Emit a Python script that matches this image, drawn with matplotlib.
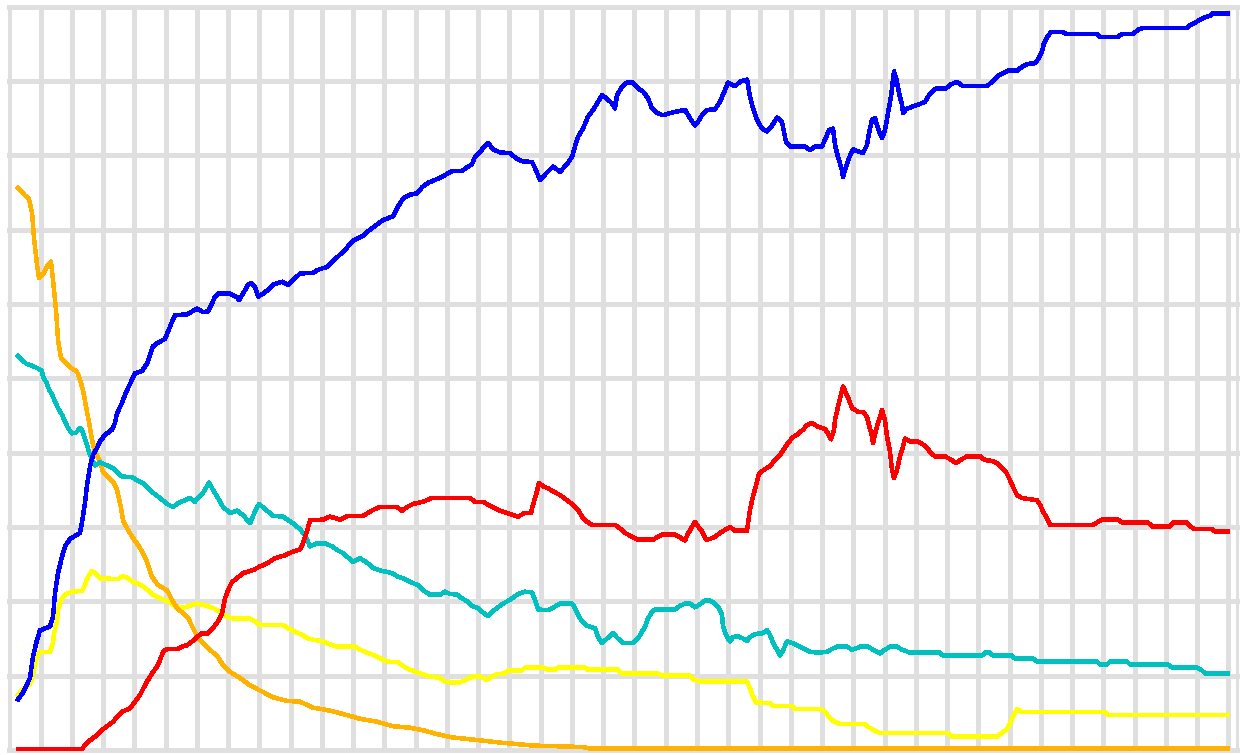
import numpy as np
import matplotlib
matplotlib.use("Agg")
import matplotlib.pyplot as plt

# x = day index (0 .. 121), y = share in percent (0 .. 100)
blue_day = [0.0, 0.5, 1.2, 1.5, 1.9, 2.2, 3.2, 3.5, 3.7, 4.0, 4.4, 4.7, 5.2, 6.2, 6.4, 6.7, 6.9, 7.2,
            7.5, 7.9, 8.2, 8.7, 9.4, 9.7, 9.9, 10.4, 10.7, 11.0, 11.4, 11.7, 12.4, 12.9, 13.2, 13.5,
            14.0, 14.7, 15.0, 15.4, 15.7, 16.9, 17.4, 17.9, 18.5, 19.0, 19.4, 19.7, 20.0, 21.2, 21.9,
            22.1, 22.5, 23.0, 23.3, 23.7, 24.0, 24.5, 25.0, 25.5, 26.4, 27.0, 27.5, 28.2, 29.5, 30.0,
            30.9, 31.4, 32.0, 32.7, 33.5, 34.5, 35.2, 35.7, 36.5, 37.5, 38.0, 38.5, 39.2, 39.9, 40.4,
            41.0, 41.7, 42.4, 43.0, 43.5, 44.4, 44.9, 45.4, 45.7, 46.2, 46.5, 47.0, 47.5, 48.2, 49.2,
            49.9, 50.5, 51.4, 51.7, 52.2, 52.9, 53.5, 54.2, 54.9, 55.4, 55.7, 56.0, 56.5, 57.0, 57.5,
            57.9, 58.4, 58.9, 59.4, 59.7, 59.9, 60.4, 60.9, 61.5, 62.0, 62.5, 63.0, 63.4, 63.9, 64.5,
            65.2, 65.9, 66.7, 67.2, 67.7, 68.0, 68.4, 68.9, 69.7, 70.2, 70.7, 71.0, 71.7, 72.2, 72.9,
            73.2, 73.5, 73.9, 74.4, 74.9, 75.4, 75.9, 76.4, 76.8, 77.2, 78.7, 79.2, 79.7, 80.4, 80.7,
            81.1, 81.5, 81.7, 82.0, 82.4, 82.5, 82.9, 83.3, 83.5, 84.5, 84.9, 85.1, 85.4, 85.7, 86.0,
            86.4, 86.7, 87.0, 87.3, 87.5, 87.6, 87.9, 88.1, 88.4, 88.5, 88.8, 89.5, 90.0, 90.7, 91.2,
            91.8, 92.8, 93.2, 93.9, 94.5, 96.9, 97.4, 97.9, 98.4, 99.0, 99.9, 100.4, 101.0, 101.7,
            102.0, 102.4, 102.6, 102.9, 103.3, 104.4, 104.9, 107.9, 108.2, 109.9, 110.4, 111.5, 112.0,
            112.4, 116.9, 117.2, 117.9, 118.4, 119.2, 119.5, 121.0]
blue_val = [6.8, 7.7, 9.7, 12.6, 14.8, 16.1, 16.6, 17.9, 21.1, 23.8, 26.0, 27.4, 28.4, 29.2, 30.7, 33.2,
            35.7, 38.1, 39.7, 40.6, 41.5, 42.4, 43.1, 44.0, 45.3, 46.7, 47.8, 48.7, 49.8, 50.7, 51.0,
            52.0, 53.1, 54.3, 54.8, 55.3, 56.3, 57.6, 58.5, 58.6, 59.0, 59.4, 58.9, 59.0, 60.1, 61.0,
            61.4, 61.4, 60.9, 60.5, 61.4, 62.6, 62.8, 62.3, 61.0, 61.4, 61.9, 62.6, 63.0, 62.6, 63.2,
            64.1, 64.2, 64.6, 65.0, 65.6, 66.4, 67.3, 68.5, 69.2, 70.0, 70.5, 71.3, 71.8, 73.1, 74.2,
            74.7, 74.9, 75.7, 76.3, 76.7, 77.1, 77.6, 77.9, 77.9, 78.4, 78.8, 79.8, 80.4, 81.0, 81.7,
            80.8, 80.4, 80.3, 79.5, 79.2, 79.1, 78.3, 76.7, 77.7, 78.5, 77.8, 78.8, 79.8, 81.2, 82.5,
            83.6, 85.2, 86.1, 87.0, 88.1, 87.6, 87.0, 86.3, 88.1, 89.2, 89.8, 89.8, 89.0, 88.6, 87.7,
            86.3, 85.7, 85.4, 85.7, 85.9, 86.1, 85.0, 84.0, 84.5, 85.4, 86.1, 86.2, 87.2, 88.8, 89.8,
            89.3, 89.9, 90.2, 87.9, 86.3, 84.8, 83.6, 83.2, 84.0, 85.1, 84.5, 81.8, 81.2, 81.2, 80.7,
            81.2, 81.2, 82.1, 83.4, 83.6, 81.4, 79.8, 78.0, 77.1, 78.9, 80.3, 80.8, 80.3, 81.4, 83.0,
            84.8, 85.0, 83.6, 82.3, 83.4, 85.7, 87.9, 90.1, 91.3, 89.9, 88.4, 86.8, 85.7, 86.2, 86.6,
            86.8, 87.2, 88.3, 89.0, 89.0, 89.5, 89.9, 89.3, 89.3, 89.9, 90.6, 91.0, 91.4, 91.4, 91.9,
            92.3, 92.4, 92.9, 94.0, 95.1, 95.9, 96.6, 96.6, 96.3, 96.3, 95.9, 95.9, 96.3, 96.3, 96.9,
            97.1, 97.1, 97.5, 98.0, 98.4, 98.8, 99.1, 99.1]

red_day = [0.0, 6.4, 6.7, 7.2, 7.9, 8.4, 8.9, 9.5, 10.0, 10.5, 11.2, 11.7, 12.2, 12.5, 12.9, 13.4, 13.9,
           14.2, 14.5, 14.9, 16.0, 16.4, 16.9, 17.4, 17.9, 18.4, 19.0, 19.5, 20.0, 20.4, 20.7, 21.0,
           21.4, 21.9, 22.5, 23.5, 24.2, 24.9, 25.7, 26.7, 27.5, 28.2, 28.5, 28.9, 29.2, 30.5, 31.2,
           32.2, 33.0, 34.5, 35.0, 35.5, 36.2, 37.9, 38.4, 38.9, 39.5, 40.5, 41.4, 45.2, 45.7, 46.5,
           47.0, 47.7, 48.2, 48.9, 49.5, 50.0, 50.7, 51.3, 51.5, 51.8, 52.1, 52.5, 53.0, 53.5, 54.2,
           54.9, 55.5, 56.0, 56.4, 56.9, 57.4, 59.7, 60.2, 60.7, 61.4, 62.0, 63.5, 64.0, 64.5, 65.7,
           66.2, 66.7, 67.0, 67.4, 67.7, 68.0, 68.4, 68.8, 69.2, 69.7, 70.2, 70.7, 71.2, 71.7, 72.9,
           73.0, 73.2, 73.5, 73.9, 74.1, 74.6, 75.2, 75.7, 76.2, 76.6, 77.0, 77.5, 78.0, 78.5, 78.9,
           79.4, 80.0, 80.7, 81.0, 81.3, 81.6, 81.7, 82.0, 82.3, 82.5, 82.8, 83.1, 83.4, 84.0, 84.5,
           84.9, 85.1, 85.4, 85.5, 85.8, 86.1, 86.4, 86.7, 86.9, 87.2, 87.4, 87.6, 87.9, 88.2, 88.5,
           88.7, 89.2, 90.0, 90.4, 90.9, 91.2, 91.7, 92.7, 93.4, 93.8, 94.2, 94.9, 96.2, 96.7, 97.4,
           97.9, 98.4, 98.8, 99.1, 99.5, 99.9, 100.4, 101.9, 102.2, 102.5, 102.9, 103.2, 107.5, 107.9,
           108.4, 110.0, 110.4, 113.0, 113.4, 115.2, 115.5, 116.9, 117.2, 117.7, 119.4, 119.7, 121.0]
red_val = [0.1, 0.1, 0.7, 1.3, 2.0, 2.7, 3.2, 3.8, 4.6, 5.2, 5.6, 6.5, 7.4, 8.2, 9.2, 10.3, 11.2, 12.1,
           13.2, 13.6, 13.6, 13.9, 14.1, 14.6, 15.2, 15.7, 15.7, 16.4, 17.3, 18.4, 20.4, 21.5, 22.6,
           23.1, 23.8, 24.2, 24.7, 25.1, 25.8, 26.2, 26.7, 27.0, 27.8, 29.4, 30.9, 31.0, 31.4, 31.0,
           31.5, 31.5, 31.9, 32.3, 32.7, 32.7, 32.2, 32.7, 33.1, 33.4, 33.9, 33.9, 33.4, 33.4, 33.0,
           32.5, 32.2, 31.9, 31.6, 31.4, 31.9, 31.9, 33.0, 34.3, 35.9, 35.5, 35.2, 34.8, 34.3, 33.6,
           33.0, 32.3, 31.4, 30.7, 30.3, 30.3, 29.8, 29.2, 28.7, 28.3, 28.3, 28.7, 29.0, 29.0, 28.6,
           28.2, 29.1, 30.0, 30.7, 30.1, 29.4, 28.3, 28.4, 28.7, 29.2, 29.6, 30.0, 29.5, 29.5, 30.5,
           32.3, 34.1, 36.1, 37.2, 37.7, 38.2, 39.0, 39.7, 40.5, 41.3, 42.1, 42.5, 43.1, 43.7, 44.0,
           43.5, 43.2, 42.6, 41.8, 43.1, 44.4, 46.2, 47.8, 48.9, 48.0, 47.1, 46.0, 45.5, 45.5, 44.8,
           43.7, 42.2, 41.3, 43.1, 44.4, 45.7, 44.4, 42.2, 40.1, 37.7, 36.6, 37.7, 39.5, 40.8, 41.9,
           41.5, 41.5, 41.2, 40.7, 40.1, 39.5, 39.5, 39.0, 38.6, 39.0, 39.5, 39.5, 39.0, 38.9, 38.6,
           38.0, 37.4, 36.6, 35.4, 34.3, 33.9, 33.6, 33.0, 32.1, 31.2, 30.3, 30.3, 30.6, 31.0, 31.0,
           30.6, 30.6, 30.1, 30.1, 30.6, 30.6, 30.1, 29.7, 29.7, 29.4, 29.4]

cyan_day = [0.0, 0.4, 0.8, 1.4, 1.9, 2.4, 2.5, 2.9, 3.1, 3.4, 3.7, 4.0, 4.4, 4.7, 5.0, 5.4, 5.8, 6.2,
            6.4, 6.7, 6.9, 7.1, 7.4, 7.7, 8.2, 8.9, 9.5, 9.9, 10.4, 11.4, 11.9, 12.5, 13.0, 13.5, 14.2,
            14.9, 15.5, 16.0, 16.5, 17.2, 17.7, 18.1, 18.5, 18.9, 19.1, 19.5, 20.0, 20.5, 21.2, 21.9,
            22.5, 23.2, 23.7, 24.1, 24.9, 25.5, 26.5, 27.5, 28.2, 28.7, 29.2, 29.9, 30.7, 31.4, 31.9,
            32.5, 33.0, 33.5, 34.2, 34.9, 35.5, 36.4, 37.4, 38.0, 38.7, 39.4, 40.0, 40.5, 41.2, 42.2,
            42.7, 43.2, 43.9, 44.4, 44.9, 45.4, 46.0, 46.5, 47.0, 47.4, 47.9, 48.5, 49.2, 49.7, 50.2,
            50.7, 51.4, 51.7, 52.0, 53.0, 53.7, 54.2, 55.4, 55.7, 56.0, 56.4, 56.9, 57.7, 58.0, 58.4,
            58.9, 59.5, 60.0, 60.5, 61.5, 62.0, 62.4, 62.7, 63.0, 63.4, 63.7, 65.7, 66.2, 66.7, 67.2,
            67.7, 68.2, 68.7, 69.2, 69.7, 70.1, 70.4, 70.5, 70.9, 71.2, 71.5, 72.0, 72.5, 72.9, 73.2,
            73.7, 74.4, 74.9, 75.2, 75.5, 75.9, 76.2, 76.5, 76.9, 77.4, 77.9, 78.5, 79.2, 80.1, 80.9,
            81.4, 81.9, 82.9, 83.4, 83.9, 84.2, 85.0, 85.5, 86.2, 86.7, 87.2, 87.9, 88.4, 89.2, 92.2,
            92.5, 96.4, 96.7, 97.2, 97.5, 99.4, 99.7, 101.5, 101.9, 107.9, 108.2, 108.9, 109.2, 110.9,
            111.2, 115.0, 115.4, 117.9, 118.4, 118.7, 121.0]
cyan_val = [53.0, 52.5, 52.0, 51.7, 51.4, 51.0, 50.2, 49.3, 48.5, 47.8, 46.9, 46.0, 45.1, 44.2, 43.3,
            42.6, 42.7, 43.3, 43.1, 41.9, 41.0, 40.1, 39.0, 38.3, 38.7, 38.3, 37.9, 37.4, 36.8, 36.7,
            36.3, 35.9, 35.2, 34.6, 33.9, 33.1, 32.7, 33.2, 33.5, 33.9, 33.4, 34.1, 34.6, 35.5, 36.0,
            35.0, 33.9, 32.7, 31.9, 32.2, 31.6, 30.5, 32.1, 33.1, 32.2, 31.5, 31.4, 30.5, 29.7, 28.9,
            27.4, 27.8, 27.8, 27.4, 26.9, 26.5, 25.9, 25.3, 25.8, 25.2, 24.5, 24.1, 23.8, 23.3, 23.0,
            22.5, 22.2, 21.5, 20.9, 20.9, 21.3, 21.0, 20.9, 20.4, 20.0, 19.4, 19.1, 18.5, 18.0, 18.6,
            19.1, 19.7, 20.2, 20.7, 21.1, 21.3, 21.2, 20.2, 18.9, 18.8, 19.3, 19.7, 19.7, 19.1, 18.2,
            17.3, 16.7, 16.4, 15.2, 14.4, 15.0, 15.7, 15.0, 14.4, 14.4, 15.0, 15.9, 16.6, 17.7, 18.6,
            18.9, 18.9, 19.4, 19.7, 19.7, 19.2, 19.6, 20.1, 20.1, 19.7, 19.1, 18.2, 16.6, 15.2, 14.6,
            15.2, 15.3, 15.0, 14.7, 15.2, 15.6, 15.7, 16.1, 15.5, 14.4, 13.5, 12.7, 13.4, 14.6, 14.4,
            14.1, 13.7, 13.2, 13.1, 13.2, 13.6, 13.9, 13.9, 13.5, 13.7, 13.9, 13.9, 13.5, 13.0, 13.5,
            13.9, 13.9, 13.5, 13.1, 13.1, 12.7, 12.7, 13.1, 13.1, 12.7, 12.7, 12.3, 12.3, 11.9, 11.9,
            11.5, 11.5, 11.9, 11.9, 11.5, 11.5, 11.1, 11.1, 10.7, 10.3, 10.3]

yellow_day = [0.0, 0.4, 0.7, 1.1, 1.4, 1.6, 1.9, 2.2, 3.2, 3.5, 3.6, 3.9, 4.0, 4.3, 4.7, 5.4, 6.4, 6.7,
              7.0, 7.4, 7.7, 8.2, 10.0, 10.5, 11.0, 11.5, 12.0, 12.5, 13.0, 13.5, 14.2, 15.0, 15.5,
              16.4, 16.9, 17.4, 17.9, 18.9, 19.5, 20.2, 20.9, 21.5, 23.2, 23.7, 24.2, 26.5, 27.0, 27.7,
              28.4, 29.0, 29.7, 30.5, 31.0, 31.9, 33.7, 34.2, 34.9, 35.7, 36.4, 36.9, 38.0, 38.5, 39.2,
              40.2, 41.2, 42.2, 42.7, 43.2, 44.2, 44.9, 45.5, 46.2, 46.9, 47.4, 47.9, 48.7, 49.0, 50.4,
              50.7, 52.5, 53.0, 53.7, 54.0, 56.7, 57.0, 60.0, 60.4, 64.0, 64.4, 67.2, 67.5, 68.2, 72.9,
              73.2, 73.5, 73.8, 75.2, 75.5, 77.4, 77.7, 80.2, 80.7, 81.0, 81.5, 82.2, 84.7, 85.0, 85.7,
              86.2, 93.0, 93.4, 97.9, 98.4, 98.9, 99.2, 99.5, 99.9, 100.4, 108.7, 109.0, 121.0]
yellow_val = [7.4, 8.1, 8.4, 8.7, 9.4, 10.8, 12.6, 13.2, 13.2, 14.4, 15.7, 17.3, 18.8, 20.2, 20.9, 21.3,
              21.4, 22.2, 23.3, 24.1, 23.8, 23.1, 23.0, 23.4, 23.1, 22.6, 22.4, 22.0, 21.5, 20.9, 20.4,
              20.0, 19.5, 19.1, 19.3, 19.5, 19.7, 19.4, 19.1, 18.6, 17.9, 17.7, 17.7, 17.3, 16.8, 16.8,
              16.4, 15.9, 15.5, 15.0, 14.8, 14.6, 14.3, 13.9, 13.9, 13.5, 13.1, 12.7, 12.2, 11.9, 11.8,
              11.3, 10.8, 10.3, 9.9, 9.7, 9.2, 9.1, 9.1, 9.5, 9.9, 9.9, 9.4, 9.9, 10.2, 10.3, 10.7, 10.7,
              11.1, 11.1, 10.8, 10.8, 11.1, 11.1, 10.8, 10.8, 10.3, 10.3, 10.0, 10.0, 9.5, 9.2, 9.2,
              8.3, 7.2, 6.4, 6.3, 5.9, 5.9, 5.5, 5.5, 5.2, 4.6, 3.9, 3.5, 3.5, 3.1, 2.6, 2.3, 2.3, 1.8,
              1.8, 2.3, 2.8, 3.6, 4.5, 5.5, 5.1, 5.1, 4.7, 4.7]

orange_day = [0.0, 0.7, 1.1, 1.4, 1.6, 1.9, 2.1, 2.5, 3.0, 3.3, 3.5, 3.8, 4.0, 4.3, 4.7, 5.2, 5.9, 6.2,
              6.5, 6.8, 7.1, 7.4, 7.7, 8.2, 8.5, 9.0, 9.5, 9.9, 10.3, 10.5, 11.0, 11.5, 12.0, 12.5,
              12.9, 13.4, 14.0, 14.9, 15.4, 15.9, 16.5, 17.0, 17.5, 18.0, 18.5, 19.2, 20.0, 20.5, 21.2,
              22.2, 23.2, 24.5, 25.5, 26.9, 28.2, 29.5, 31.2, 32.9, 34.2, 35.9, 37.5, 39.2, 40.7, 41.7,
              43.4, 45.5, 48.2, 51.5, 56.5, 57.2, 121.0]
orange_val = [75.6, 74.6, 74.1, 72.3, 68.9, 65.3, 63.5, 64.0, 65.3, 65.7, 63.2, 59.2, 55.2, 52.7, 52.2,
              51.5, 50.9, 49.8, 48.4, 46.2, 44.1, 41.7, 40.1, 38.8, 37.4, 36.7, 36.1, 35.0, 32.6, 30.9,
              29.6, 28.5, 27.6, 26.5, 25.3, 23.3, 22.2, 21.5, 20.2, 19.1, 18.4, 17.8, 16.4, 15.1, 14.4,
              13.5, 12.5, 11.4, 10.5, 9.7, 8.7, 7.8, 7.1, 6.6, 6.5, 5.7, 5.3, 4.7, 4.2, 3.8, 3.2, 3.0,
              2.6, 2.2, 1.7, 1.4, 1.0, 0.6, 0.4, 0.2, 0.2]

grid_col = "#dfdfdf"

fig = plt.figure(figsize=(12.41, 7.55), dpi=100)
ax = fig.add_axes([9.3 / 1241, 5 / 755, (1237 - 9.3) / 1241, (750 - 6.7) / 755])
ax.set_xlim(-0.87, 121.9)
ax.set_ylim(0, 100)

for xv in np.arange(40) * 3.126 - 0.87:
    ax.axvline(xv, color=grid_col, lw=2.2, zorder=1, antialiased=False)
for yv in range(0, 101, 10):
    ax.axhline(yv, color=grid_col, lw=2.2, zorder=1, clip_on=False, antialiased=False)
for s in ax.spines.values():
    s.set_color(grid_col)
    s.set_linewidth(2.2)
ax.set_xticks([])
ax.set_yticks([])

series = [
    (yellow_day, yellow_val, "#ffff00"),
    (orange_day, orange_val, "#ffb300"),
    (cyan_day, cyan_val, "#00c0c0"),
    (red_day, red_val, "#ff0000"),
    (blue_day, blue_val, "#0000ff"),
]
for d, v, c in series:
    ax.plot(d, v, color=c, lw=2.5, zorder=3, clip_on=False, antialiased=False)

fig.savefig("out.png", dpi=100)
